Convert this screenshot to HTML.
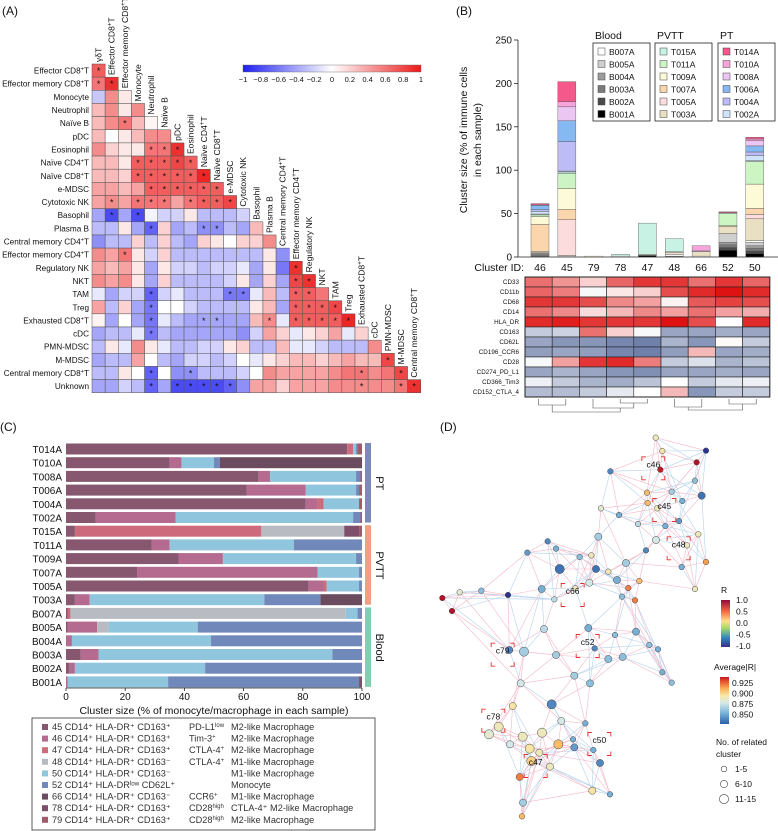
<!DOCTYPE html>
<html><head><meta charset="utf-8"><style>
html,body{margin:0;padding:0;background:#fff;}
svg{display:block;font-family:"Liberation Sans",Arial,sans-serif;}
</style></head><body>
<svg id="fig" width="778" height="831" viewBox="0 0 778 831" xmlns="http://www.w3.org/2000/svg">
<g id="pa"></g>
<g id="pb"></g>
<g id="pc"></g>
<g id="pd"></g>
</svg>
<script>
// ---------- Panel A data ----------
const aColLabels=["γδT","Effector CD8|+|T","Effector memory CD8|+|T","Monocyte","Neutrophil","Naïve B","pDC","Eosinophil","Naïve CD4|+|T","Naïve CD8|+|T","e-MDSC","Cytotoxic NK","Basophil","Plasma B","Central memory CD4|+|T","Effector memory CD4|+|T","Regulatory NK","NKT","TAM","Treg","Exhausted CD8|+|T","cDC","PMN-MDSC","M-MDSC","Central memory CD8|+|T"];
const aRowLabels=["Effector CD8|+|T","Effector memory CD8|+|T","Monocyte","Neutrophil","Naïve B","pDC","Eosinophil","Naïve CD4|+|T","Naïve CD8|+|T","e-MDSC","Cytotoxic NK","Basophil","Plasma B","Central memory CD4|+|T","Effector memory CD4|+|T","Regulatory NK","NKT","TAM","Treg","Exhausted CD8|+|T","cDC","PMN-MDSC","M-MDSC","Central memory CD8|+|T","Unknown"];
const aValues=[
[0.7],[0.6,0.9],[-0.25,0.5,0.1],[0.3,0.5,0.1,0.5],[0.3,0.5,0.6,0.3,0.05],[0.3,0,0.1,0.3,0.5,0.5],
[0.5,0.2,0.1,0.1,0.6,0.6,0.9],[0.3,0.3,0.1,0.7,0.7,0.7,0.8,0.7],[0.3,0.3,0.2,0.7,0.7,0.7,0.7,0.7,0.95],
[0.4,0.4,0.3,0.4,0.7,0.7,0.7,0.7,0.7,0.7],[0.4,0.5,0.4,0.6,0.6,0.6,0.4,0.6,0.7,0.7,0.8],
[-0.4,-0.8,-0.4,-0.8,-0.05,-0.2,-0.2,0.1,-0.3,-0.3,-0.3,-0.2],
[-0.3,-0.3,0.1,-0.4,-0.7,0.2,-0.4,-0.3,-0.5,-0.5,-0.3,-0.4,0.3],
[-0.5,-0.3,-0.3,0.2,-0.3,0.2,-0.3,-0.4,0.2,0.1,0,0.2,0.2,0.5],
[0.5,0.4,0.6,0.1,-0.2,0.2,-0.3,-0.3,-0.3,-0.3,-0.3,-0.3,-0.3,0.1,-0.5],
[0.4,0.3,0.4,0.1,-0.4,0.1,-0.2,-0.2,-0.3,-0.2,-0.2,-0.1,-0.4,0.1,-0.6,0.9],
[0.5,0.4,0.5,0.1,-0.4,0.2,-0.3,-0.3,-0.3,-0.3,-0.2,0.1,-0.4,0.2,-0.4,0.8,0.9],
[-0.1,-0.4,-0.2,-0.2,-0.7,-0.2,-0.1,-0.3,-0.3,-0.3,-0.6,-0.6,-0.1,0.3,-0.3,0.7,0.7,0.6],
[0.4,-0.3,0.2,-0.4,-0.6,0,0,-0.2,-0.3,-0.3,-0.3,-0.3,0.1,0.3,-0.4,0.7,0.7,0.7,0.8],
[0.05,-0.4,0,-0.4,-0.6,-0.1,-0.3,-0.4,-0.4,-0.4,-0.4,-0.4,0.3,0.5,-0.1,0.7,0.7,0.7,0.7,0.95],
[-0.4,-0.3,-0.3,-0.1,-0.6,-0.3,-0.4,-0.4,-0.4,-0.4,-0.4,-0.5,-0.2,0.4,0.2,-0.1,0.1,0.2,0.4,-0.1,0.2],
[-0.3,0.1,-0.1,0.5,0.1,-0.1,-0.3,-0.3,-0.2,-0.2,0.1,0.2,-0.3,-0.3,0.3,-0.1,-0.1,-0.2,-0.3,-0.3,-0.3,0.5],
[-0.4,-0.3,-0.3,0.4,0,-0.3,-0.4,-0.2,-0.2,-0.3,-0.2,0,-0.1,0.1,0.2,0.3,0.3,0.2,0.3,0.4,0.3,0.3,0.8],
[-0.3,-0.3,0.1,0,-0.7,0,-0.5,-0.5,-0.3,-0.3,-0.3,-0.2,0,0.5,0.4,0.4,0.4,0.4,0.5,0.6,0.6,0.5,0.6,0.8],
[-0.4,-0.4,-0.2,-0.3,-0.7,-0.4,-0.8,-0.8,-0.8,-0.8,-0.7,-0.5,0.4,0.4,0.2,0.4,0.4,0.4,0.5,0.5,0.5,0.5,0.5,0.6,0.9]];
const aStars=[[0],[0,1],[],[],[2],[],[4,5,6],[3,4,5,6,7],[3,4,5,6,7,8],[4,5,6,7,8,9],[1,3,4,5,7,8,9,10],[1,3],[4,8,9],[],[2],[15],[15,16],[4,10,11,15,16],[4,15,16,17,18],[4,8,9,13,15,16,17,18,19],[4],[],[22],[4,7,20,23],[4,6,7,8,9,10,20,23,24]];
const aTicks=["−1","−0.8","−0.6","−0.4","−0.2","0","0.2","0.4","0.6","0.8","1"];

// ---------- Panel B data ----------
const bClusters=["46","45","79","78","47","48","66","52","50"];
const bSamples=["B001A","B002A","B003A","B004A","B005A","B007A","T003A","T005A","T007A","T009A","T011A","T015A","T002A","T004A","T006A","T008A","T010A","T014A"];
const bSampleColors=["#000000","#4a4a4a","#7a7a7a","#9c9c9c","#cfcfcf","#ffffff","#e9dfc2","#fcdcdc","#fbd6ad","#fdfad8","#cdf5c4","#c8f2e4","#cfe3fb","#bdbcf7","#86b8f2","#ecc6f2","#f7a3dc","#f5588a"];
const bVal46=[0.5,0.5,0.5,1,1,0.5,1.5,1,31,9,2,1,3,2,5,0.5,0,1.5];
const bVal45=[0,0,0,0,0,1,1,41,12,24,17,2,1,34,24,16,6,23];
const bVal79=[0,0,0,0,0,0,1,0,0,0,0,0,0,0,0,0,0,0];
const bVal78=[0,0,0,0,0,1,0,0,0,0,0,2,0,0,0,0,0,0];
const bVal47=[1.5,0.5,0,0,0,0,1,0,0,0,0,36,0,0,0,0,0,0];
const bVal48=[0.5,0.5,0,0,0,2,2,1,0,0,0,15,0,0,0,0,0,0];
const bVal66=[0,0,0,0,0,1,5,0,0,0,0,0,0,0,0,1,6,0];
const bVal52=[8,3,3,3,10,0,8,0,1,0,14,1,0,0,0,0,0,1];
const bVal50=[4,3,3,3,4,2,25,5,7,28,26,1,6,4,7,6,2,2];
const bTicks=[0,50,100,150,200,250];
const bMarkers=["CD33","CD11b","CD68","CD14","HLA_DR","CD163","CD62L","CD196_CCR6","CD28","CD274_PD_L1","CD366_Tim3","CD152_CTLA_4"];
const bHeat=[
[0.6,0.45,0.2,0.65,0.85,0.85,0.6,0.85,0.65],
[0.65,0.55,-0.05,0.1,0.2,0.75,0.9,1,0.9],
[0.85,0.85,0.75,0.5,0.4,0.05,0.7,0.8,0.75],
[0.6,0.5,0.15,0.3,0.5,0.4,0.6,0.4,0.35],
[0.9,0.95,0.85,0.85,0.85,1,0.75,0,0.9],
[-0.35,-0.3,0.6,0.2,-0.05,-0.6,-0.6,-0.55,-0.6],
[-0.6,-0.7,-0.7,-0.8,-0.85,-0.5,-0.7,0.02,-0.35],
[-0.65,-0.6,-0.65,-0.8,-0.85,-0.65,0.3,-0.6,-0.55],
[-0.05,0.4,0.85,0.9,0.55,-0.35,-0.2,-0.5,-0.4],
[-0.6,-0.5,-0.6,-0.7,-0.75,-0.6,-0.6,-0.55,-0.6],
[-0.1,-0.35,-0.5,-0.55,-0.4,0,-0.35,-0.15,-0.1],
[-0.45,-0.45,-0.35,-0.15,0,0.3,-0.7,-0.35,-0.35]];

// ---------- Panel C data ----------
const cSamples=["T014A","T010A","T008A","T006A","T004A","T002A","T015A","T011A","T009A","T007A","T005A","T003A","B007A","B005A","B004A","B003A","B002A","B001A"];
const cClusters=["45","46","47","48","50","52","66","78","79"];
const cColors=["#86576f","#b56a8f","#cd6b7c","#b8bcc2","#8fc6dd","#7188bb","#6b4b5e","#7d4f6a","#a05a6a"];
const cVal45=[95,35,65,61,81,10,3,29,38,24,82,3,0.5,0.5,0,5,1,0];
const cVal46=[0,4,4,20,4,27,0,6,15,61,5,5,0,10,2,6,2,0.5];
const cVal47=[2,0,0,0,2,0,63,0,0,0,1,0,1,0,0,0,0,0];
const cVal48=[0,0,0,0,0,0,28,0,0,0,0,0,93,4,0,0,0,0];
const cVal50=[1,11,29,17,12,60,0,42,45,14,11,59,4,30,47,79,44,34];
const cVal52=[0.5,2,1.5,1,0,2.5,0,23,2,1,1,19,1.5,55.5,51,10,53,64.5];
const cVal66=[0,48,0,0,0,0,0,0,0,0,0,14,0,0,0,0,0,0];
const cVal78=[0,0,0,0,0,0,5,0,0,0,0,0,0,0,0,0,0,1];
const cVal79=[1.5,0,0.5,1,1,0.5,1,0,0,0,0,0,0,0,0,0,0,0];
const cTicks=[0,20,40,60,80,100];

// ---------- Panel D data (layout coordinates) ----------
const dX=[707,727,858,830,721,571,825,845,681,755,683,712,787,543,597,777,736,654,708,535,835,801,383,408,322,678,479,514,618,785,858,419,528,565,591,508,658,625,645,606,466,365,403,825,67,96,119,184,264,372,505,648,585,688,714,268,312,408,524,565,608,463,510,727,755,302,278,395,424,496,236,207,308,366,270,415,459,463,329,358,520,334,390,540,299,517,570,309,306];
const dY=[113,153,152,187,209,214,242,287,278,275,309,325,303,325,345,363,378,372,420,410,403,436,424,446,458,451,471,466,489,501,486,507,507,515,540,548,543,564,601,590,565,567,598,567,594,633,577,572,585,687,684,695,705,735,748,750,755,765,745,777,771,827,850,817,848,850,918,913,963,970,980,1003,1010,998,1033,1033,1018,1042,1046,1058,1050,1083,1100,1089,1131,1172,1183,1208,1249];
const dSize=[1,1,1,1,1,1,1,2,1,1,1,1,1,1,1,1,1,1,2,2,1,1,1,1,1,1,1,1,2,1,1,3,2,1,2,2,1,1,1,1,1,2,1,1,1,1,1,1,1,2,2,2,1,1,1,2,3,2,1,2,2,2,2,1,1,2,2,3,2,1,3,3,3,3,2,3,1,2,3,2,1,3,2,2,2,2,1,2,1];
const dVal=[0.89,0.895,-1,1,0.93,0.85,0.865,0.845,0.905,0.87,0.905,0.89,0.86,0.885,0.86,0.855,0.86,0.875,0.88,0.87,0.89,0.89,0.85,0.86,0.855,0.85,0.865,0.89,0.87,0.86,0.91,0.845,0.845,0.89,0.86,0.88,0.905,0.915,0.915,0.865,0.89,0.86,0.875,0.89,1,1,0.885,0.865,-1,0.875,0.86,0.86,0.865,0.865,0.86,0.85,0.87,0.87,0.85,0.865,0.865,0.87,0.865,0.86,0.865,0.88,0.895,0.85,0.88,0.86,0.89,0.885,0.89,0.89,0.88,0.905,0.86,0.855,0.895,0.89,0.86,0.9,0.89,0.85,0.915,0.895,0.86,0.87,0.905];
const dLabels=["c46","c45","c48","c66","c52","c79","c78","c50","c47"];
const dLabelX=[700,733,776,458,503,248,220,538,347];
const dLabelY=[205,330,445,585,738,764,962,1032,1098];
const dRTicks=["1.0","0.5","0.0","-0.5","-1.0"];
const dAvgTicks=["0.925","0.900","0.875","0.850"];
const dSizeLabels=["1-5","6-10","11-15"];

// ---------- helpers ----------
const NS="http://www.w3.org/2000/svg";
function mk(parent,tag,attrs){const e=document.createElementNS(NS,tag);for(const k in attrs)e.setAttribute(k,attrs[k]);parent.appendChild(e);return e;}
function txt(parent,x,y,s,attrs){const e=mk(parent,"text",Object.assign({x:x,y:y,"font-size":9,fill:"#111"},attrs||{}));
  const parts=s.split("|");e.appendChild(document.createTextNode(parts[0]));
  if(parts.length>2){const t=mk(e,"tspan",{dy:-3,"font-size":"0.7em"});t.textContent=parts[1];const t2=mk(e,"tspan",{dy:3});t2.textContent=parts[2];}
  return e;}
function lerp(a,b,t){return Math.round(a+(b-a)*t);}
function rgb(c){return "rgb("+c[0]+","+c[1]+","+c[2]+")";}
function divColor(v,neg,pos){const w=[255,255,255];const t=Math.min(1,Math.abs(v));const c=v>=0?pos:neg;return rgb([lerp(w[0],c[0],t),lerp(w[1],c[1],t),lerp(w[2],c[2],t)]);}
function rampColor(t,stops){t=Math.max(0,Math.min(1,t));for(let i=1;i<stops.length;i++){if(t<=stops[i][0]){const a=stops[i-1],b=stops[i];const u=(t-a[0])/(b[0]-a[0]);return rgb([lerp(a[1][0],b[1][0],u),lerp(a[1][1],b[1][1],u),lerp(a[1][2],b[1][2],u)]);}}return rgb(stops[stops.length-1][1]);}

// ---------- Panel A ----------
(function(){
const g=document.getElementById("pa");
const lab=txt(g,2,15,"(A)",{"font-size":12});


const x0=92,y0=64,cs=13.15;
const cx=j=>x0+j*cs, cy=i=>y0+i*cs;
for(let i=0;i<aValues.length;i++){
  const rl=txt(g,89,cy(i)+cs/2+3,aRowLabels[i],{"text-anchor":"end","font-size":8.2});
  
  
  for(let j=0;j<aValues[i].length;j++){
    const r=mk(g,"rect",{x:cx(j),y:cy(i),width:cs,height:cs,fill:divColor(aValues[i][j],[30,30,240],[235,25,25]),stroke:"#555","stroke-width":0.5});
    
    
    if(aStars[i].indexOf(j)>=0){const s=txt(g,cx(j)+cs/2,cy(i)+cs/2+3.5,"*",{"text-anchor":"middle","font-size":9});
      
      }
  }
}
aColLabels.forEach((lbl,j)=>{
  const x=cx(j)+cs/2+3,y=cy(j)-2;
  const t=txt(g,x,y,lbl,{transform:"rotate(-90 "+x+" "+y+")","font-size":8.6});
  
  
});
const defs=mk(g,"defs",{});const lg=mk(defs,"linearGradient",{id:"gA",x1:0,x2:1,y1:0,y2:0});
mk(lg,"stop",{offset:0,"stop-color":"rgb(30,30,240)"});mk(lg,"stop",{offset:0.5,"stop-color":"#fff"});mk(lg,"stop",{offset:1,"stop-color":"rgb(235,25,25)"});
const cb=mk(g,"rect",{x:243,y:65,width:178,height:7,fill:"url(#gA)",stroke:"#666","stroke-width":0.4});


aTicks.forEach((t,k)=>{const x=243+178*k/(aTicks.length-1);const e=txt(g,x,82,t,{"text-anchor":"middle","font-size":7.5});
  
  });
})();

// ---------- Panel B ----------
(function(){
const g=document.getElementById("pb");
const lab=txt(g,456,15,"(B)",{"font-size":12});


const yB=257,yT=40,maxV=250;const ys=v=>yB-(yB-yT)*v/maxV;
const xs=i=>540+i*26.85;const bw=18;
mk(g,"line",{x1:518,x2:518,y1:yT,y2:yB,stroke:"#222","stroke-width":0.8});
mk(g,"line",{x1:518,x2:778,y1:yB,y2:yB,stroke:"#222","stroke-width":0.8});
bTicks.forEach(t=>{mk(g,"line",{x1:514,x2:518,y1:ys(t),y2:ys(t),stroke:"#222","stroke-width":0.8});
  const e=txt(g,512,ys(t)+3.5,String(t),{"text-anchor":"end","font-size":10});
  
  });
const yl1=txt(g,467,140,"Cluster size (% of immune cells",{"text-anchor":"middle","font-size":10.5,transform:"rotate(-90 467 140)"});


const yl2=txt(g,481,140,"in each sample)",{"text-anchor":"middle","font-size":10.5,transform:"rotate(-90 481 140)"});


const cid=txt(g,524,271,"Cluster ID:",{"text-anchor":"end","font-size":10.5});


const series=[bVal46,bVal45,bVal79,bVal78,bVal47,bVal48,bVal66,bVal52,bVal50];
series.forEach((vals,i)=>{let acc=0;
  vals.forEach((v,k)=>{if(v<=0)return;const r=mk(g,"rect",{x:xs(i)-bw/2,y:ys(acc+v),width:bw,height:ys(acc)-ys(acc+v),fill:bSampleColors[k],stroke:"#555","stroke-width":0.4});
    
    acc+=v;});
  const e=txt(g,xs(i),271,bClusters[i],{"text-anchor":"middle","font-size":10.5});
  
  
});
const groups=[["Blood",593,[5,4,3,2,1,0]],["PVTT",655,[11,10,9,8,7,6]],["PT",718,[17,16,15,14,13,12]]];
groups.forEach(gr=>{const t=txt(g,gr[1]+2,39,gr[0],{"font-size":10.5});
  
  
  const box=mk(g,"rect",{x:gr[1],y:43,width:57,height:78,fill:"#fff",stroke:"#222","stroke-width":0.8});
  
  
  gr[2].forEach((k,m)=>{const yy=48+m*12.5;
    const sw=mk(g,"rect",{x:gr[1]+5,y:yy,width:7,height:7,fill:bSampleColors[k],stroke:"#444","stroke-width":0.5});
    
    
    const lt=txt(g,gr[1]+16,yy+7,bSamples[k],{"font-size":8.5});
    
    });
});
const hx0=525,hy0=277,cw=27.2,ch=10;
const hw=bClusters.length*cw;
bMarkers.forEach((m,r)=>{const e=txt(g,519,hy0+r*ch+7,m,{"text-anchor":"end","font-size":6.3});
  
  
  bHeat[r].forEach((v,c)=>{const rc=mk(g,"rect",{x:hx0+c*cw,y:hy0+r*ch,width:cw,height:ch,fill:divColor(v,[85,105,155],[222,18,18]),stroke:"#222","stroke-width":0.6});
    
    });});
mk(g,"rect",{x:hx0,y:hy0,width:hw,height:ch*12,fill:"none",stroke:"#222","stroke-width":1});
const dg=mk(g,"g",{stroke:"#555","stroke-width":0.6,fill:"none"});


const cc=i=>hx0+cw*(i+0.5);const yb=hy0+ch*12+2;
[[0,1,6],[3,4,4],[7,8,5]].forEach(p=>{mk(dg,"path",{d:"M"+cc(p[0])+" "+yb+"V"+(yb+p[2])+"H"+cc(p[1])+"V"+yb});});
mk(dg,"path",{d:"M"+cc(2)+" "+yb+"V"+(yb+9)+"H"+((cc(3)+cc(4))/2)+"V"+(yb+4)});
mk(dg,"path",{d:"M"+cc(5)+" "+yb+"V"+(yb+8)+"H"+cc(6)+"V"+yb});
mk(dg,"path",{d:"M"+((cc(5)+cc(6))/2)+" "+(yb+8)+"V"+(yb+11)+"H"+((cc(7)+cc(8))/2)+"V"+(yb+5)});
mk(dg,"path",{d:"M"+((cc(0)+cc(1))/2)+" "+(yb+6)+"V"+(yb+13)+"H"+((cc(2)+cc(4))/2)+"V"+(yb+9)});
})();

// ---------- Panel C ----------
(function(){
const g=document.getElementById("pc");
const lab=txt(g,0,431,"(C)",{"font-size":12});


const x0=66,xw=296;const xs=v=>x0+xw*v/100;
const ys=i=>449+i*13.7;const bh=11;
const series=[cVal45,cVal46,cVal47,cVal48,cVal50,cVal52,cVal66,cVal78,cVal79];
cSamples.forEach((s,i)=>{const e=txt(g,62,ys(i)+4,s,{"text-anchor":"end","font-size":10});
  
  
  let acc=0;
  series.forEach((arr,k)=>{const v=arr[i];if(v<=0)return;
    const r=mk(g,"rect",{x:xs(acc),y:ys(i)-bh/2,width:xs(acc+v)-xs(acc),height:bh,fill:cColors[k]});
    
    acc+=v;});
});
mk(g,"line",{x1:x0,x2:x0+xw,y1:688,y2:688,stroke:"#222","stroke-width":0.8});
cTicks.forEach(t=>{mk(g,"line",{x1:xs(t),x2:xs(t),y1:688,y2:691,stroke:"#222","stroke-width":0.8});
  const e=txt(g,xs(t),700,String(t),{"text-anchor":"middle","font-size":10});
  
  });
const xt=txt(g,214,714,"Cluster size (% of monocyte/macrophage in each sample)",{"text-anchor":"middle","font-size":10.5});


const grp=[["PT","#7b8ab8",0,5],["PVTT","#f0a080",6,11],["Blood","#7fcfb0",12,17]];
grp.forEach(gg=>{const y1=ys(gg[2])-6,y2=ys(gg[3])+6;
  const r=mk(g,"rect",{x:365,y:y1,width:6,height:y2-y1-1,fill:gg[1]});
  
  
  const cy=(y1+y2)/2;const t=txt(g,376,cy,gg[0],{"text-anchor":"middle","font-size":11,transform:"rotate(90 376 "+cy+")"});
  
  });
const box=mk(g,"rect",{x:32,y:718,width:343,height:112,fill:"#fff",stroke:"#333","stroke-width":0.8});


const col2=["PD-L1^low","Tim-3^+","CTLA-4^+","CTLA-4^+","","","CCR6^+","CD28^high","CD28^high"];
const col1=["CD14⁺ HLA-DR⁺ CD163⁺","CD14⁺ HLA-DR⁺ CD163⁺","CD14⁺ HLA-DR⁺ CD163⁺","CD14⁺ HLA-DR⁺ CD163⁻","CD14⁺ HLA-DR⁺ CD163⁻","CD14⁺ HLA-DRˡᵒʷ CD62L⁺","CD14⁺ HLA-DR⁺ CD163⁻","CD14⁺ HLA-DR⁺ CD163⁺","CD14⁺ HLA-DR⁺ CD163⁺"];
const col3=["M2-like Macrophage","M2-like Macrophage","M2-like Macrophage","M1-like Macrophage","M1-like Macrophage","Monocyte","M1-like Macrophage","CTLA-4⁺ M2-like Macrophage","M2-like Macrophage"];
cClusters.forEach((c,k)=>{const y=730+k*11.6;
  const sw=mk(g,"rect",{x:42,y:y-6,width:6,height:6,fill:cColors[k]});
  
  
  const t=txt(g,52,y,c+" "+col1[k],{"font-size":9.2,fill:"#333"});
  
  
  if(col2[k]){const p=col2[k].split("^");const t2=txt(g,189,y,p[0],{"font-size":9.2,fill:"#333"});const sp=mk(t2,"tspan",{dy:-3,"font-size":6});sp.textContent=p[1];
    
    }
  const t3=txt(g,231,y,col3[k],{"font-size":9.2,fill:"#333"});
  
  
});
})();

// ---------- Panel D ----------
(function(){
const g=document.getElementById("pd");
const lab=txt(g,440,431,"(D)",{"font-size":12});


const sx=x=>420+x/3, sy=y=>400+y/3;
const stops=[[0,[44,95,168]],[0.25,[127,184,218]],[0.45,[214,233,232]],[0.6,[247,232,168]],[0.75,[249,178,90]],[0.9,[232,85,46]],[1,[192,26,32]]];
const avgColor=v=>rampColor((v-0.84)/0.09,stops);
const rColor=v=>v>0?"#b5102a":"#2a3590";
const eg=mk(g,"g",{"stroke-width":0.6,opacity:0.75});


const n=dX.length;const seen={};
for(let i=0;i<n;i++){const d=[];for(let j=0;j<n;j++)if(j!==i)d.push([Math.hypot(dX[i]-dX[j],dY[i]-dY[j]),j]);
  d.sort((a,b)=>a[0]-b[0]);
  for(let m=0;m<5;m++){const j=d[m][1];if(d[m][0]>260)continue;const key=Math.min(i,j)+"-"+Math.max(i,j);if(seen[key])continue;seen[key]=1;
    const l=mk(eg,"line",{x1:sx(dX[i]),y1:sy(dY[i]),x2:sx(dX[j]),y2:sy(dY[j]),stroke:((i+j)%3===0)?"#9cc3e6":"#f0a0b4"});
    
    }
  const far=d[Math.min(9,d.length-1)];if(far[0]<420){const j=far[1];const key=Math.min(i,j)+"-"+Math.max(i,j);if(!seen[key]){seen[key]=1;
    const l=mk(eg,"line",{x1:sx(dX[i]),y1:sy(dY[i]),x2:sx(dX[j]),y2:sy(dY[j]),stroke:(i%2)?"#f0a0b4":"#9cc3e6"});
    
    }}
}
for(let i=0;i<n;i++){const r=[0,2.8,3.6,4.6][dSize[i]];const v=dVal[i];
  const c=mk(g,"circle",{cx:sx(dX[i]),cy:sy(dY[i]),r:r,fill:Math.abs(v)===1?rColor(v):avgColor(v),stroke:"#444","stroke-width":0.5});
  
  }
dLabels.forEach((l,k)=>{const x=sx(dLabelX[k]),y=sy(dLabelY[k]);const h=11.5;
  const p=mk(g,"path",{d:`M${x-h} ${y-h+4}V${y-h}H${x-h+4} M${x+h-4} ${y-h}H${x+h}V${y-h+4} M${x-h} ${y+h-4}V${y+h}H${x-h+4} M${x+h-4} ${y+h}H${x+h}V${y+h-4}`,stroke:"#e53030",fill:"none","stroke-width":0.9});
  
  
  const t=txt(g,x,y-1,l,{"text-anchor":"middle","font-size":8.5});
  
  });
const df=mk(g,"defs",{});
const g1=mk(df,"linearGradient",{id:"gR",x1:0,x2:0,y1:0,y2:1});
[["0","#8e0a3c"],["0.25","#f46d43"],["0.45","#fee08b"],["0.6","#a6d96a"],["0.8","#3288bd"],["1","#3a2c8a"]].forEach(s=>mk(g1,"stop",{offset:s[0],"stop-color":s[1]}));
const g2=mk(df,"linearGradient",{id:"gAvg",x1:0,x2:0,y1:1,y2:0});
stops.forEach(s=>mk(g2,"stop",{offset:s[0],"stop-color":rgb(s[1])}));
const tR=txt(g,721,593,"R",{"font-size":8.5});


const rb=mk(g,"rect",{x:721,y:600,width:9,height:47,fill:"url(#gR)"});


dRTicks.forEach((t,k)=>{const e=txt(g,736,603+k*11.5,t,{"font-size":8.5});
  
  });
const tA=mk(g,"text",{x:714,y:670,"font-size":8.5,fill:"#111"});
tA.textContent="Average|R|";


const ab=mk(g,"rect",{x:720,y:677,width:9,height:47,fill:"url(#gAvg)"});


dAvgTicks.forEach((t,k)=>{const e=txt(g,732,686+k*10.5,t,{"font-size":8.5});
  
  });
const ts=txt(g,716,745,"No. of related",{"font-size":8.5});


const ts2=txt(g,716,757,"cluster",{"font-size":8.5});


dSizeLabels.forEach((l,k)=>{const y=769+k*15;
  const c=mk(g,"circle",{cx:724,cy:y,r:[2.8,3.6,4.6][k],fill:"#fff",stroke:"#444","stroke-width":0.6});
  
  
  const e=txt(g,735,y+3,l,{"font-size":8.5});
  
  });
})();
</script>
</body></html>
